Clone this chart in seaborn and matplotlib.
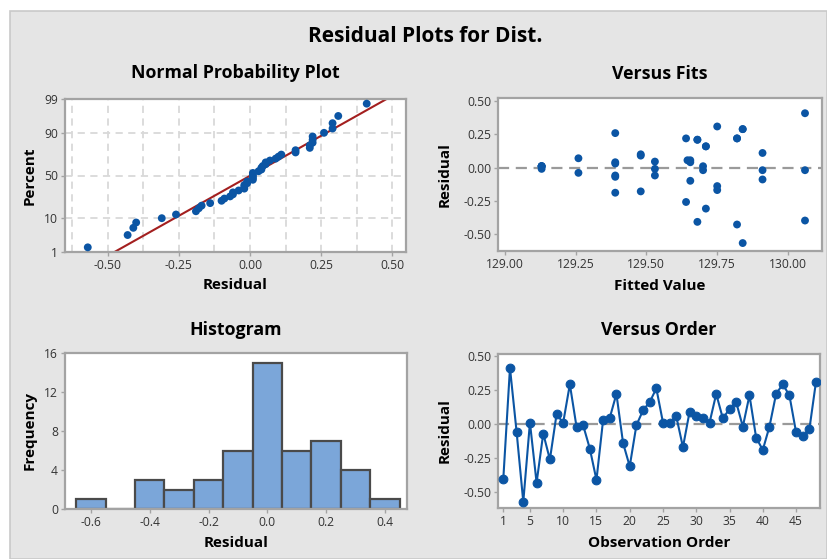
import numpy as np
import pandas as pd
import matplotlib
matplotlib.use("Agg")
import matplotlib.pyplot as plt
import seaborn as sns
from statistics import NormalDist
from matplotlib.patches import Rectangle

# ---------------- data ----------------
observation = list(range(1, 49))
residuals = [-0.40, 0.41, -0.06, -0.57, 0.01, -0.43, -0.07, -0.26, 0.07, 0.01,
             0.29, -0.02, -0.01, -0.18, -0.41, 0.03, 0.045, 0.22, -0.14, -0.31,
             -0.01, 0.10, 0.16, 0.26, 0.01, 0.01, 0.055, -0.17, 0.09, 0.055,
             0.04, 0.01, 0.22, 0.04, 0.11, 0.16, -0.02, 0.21, -0.10, -0.19,
             -0.02, 0.22, 0.29, 0.21, -0.06, -0.09, -0.04, 0.31]
fitted = [130.06, 130.06, 129.39, 129.84, 129.13, 129.82, 129.39, 129.64, 129.26, 129.70,
          129.84, 130.06, 129.13, 129.48, 129.68, 129.39, 129.53, 129.64, 129.75, 129.71,
          129.53, 129.48, 129.71, 129.39, 129.13, 129.13, 129.655, 129.75, 129.48, 129.645,
          129.655, 129.13, 129.82, 129.39, 129.91, 129.71, 129.91, 129.68, 129.655, 129.39,
          129.70, 129.82, 129.84, 129.68, 129.53, 129.91, 129.26, 129.75]
pct_ticks = [1, 10, 50, 90, 99]
np_xticks = [-0.50, -0.25, 0.00, 0.25, 0.50]
vf_xticks = [129.00, 129.25, 129.50, 129.75, 130.00]
res_yticks = [-0.50, -0.25, 0.00, 0.25, 0.50]
hist_xticks = [-0.6, -0.4, -0.2, 0.0, 0.2, 0.4]
hist_yticks = [0, 4, 8, 12, 16]
order_xticks = [1, 5, 10, 15, 20, 25, 30, 35, 40, 45]

df = pd.DataFrame({"obs": observation, "resid": residuals, "fit": fitted})

# normal probability positions
nd = NormalDist()
n = len(residuals)
sorted_res = np.sort(np.array(residuals))
ranks = np.arange(1, n + 1)
zq = np.array([nd.inv_cdf((i - 0.3) / (n + 0.4)) for i in ranks])
npdf = pd.DataFrame({"resid": sorted_res, "z": zq})
mu = float(np.mean(residuals))
sd = float(np.std(residuals, ddof=1))
zlo, zhi = nd.inv_cdf(0.01), nd.inv_cdf(0.99)
linedf = pd.DataFrame({"x": [mu + zlo * sd, mu + zhi * sd], "z": [zlo, zhi]})

# ---------------- style ----------------
sns.set_theme(style="white")
FONT = ["Open Sans", "DejaVu Sans"]
plt.rcParams["font.family"] = FONT

W, H = 827, 559
fig = plt.figure(figsize=(W / 100, H / 100), dpi=100, facecolor="white")
fig.patches.append(Rectangle((10 / W, 0), 1 - 10 / W, (H - 11) / H, transform=fig.transFigure,
                             facecolor="#E5E5E5", edgecolor="#C9C9C9", linewidth=1.2, zorder=-10))

BLUE = "#0B55A4"
TICKC = "#333333"
SPINE = "#A3A3A3"


def make_ax(l, r, t, b):
    ax = fig.add_axes([l / W, (H - b) / H, (r - l) / W, (b - t) / H])
    ax.set_facecolor("white")
    for s in ax.spines.values():
        s.set_color(SPINE)
        s.set_linewidth(1.6)
    ax.tick_params(axis="both", labelsize=8.7, colors=SPINE, labelcolor=TICKC,
                   length=3, width=1, direction="out", bottom=True, left=True, pad=2)
    return ax


def labels(ax, xl, yl, xl_y, yl_x, l, r, t, b):
    ax.set_xlabel(xl, fontsize=11, fontweight="bold", color="black", va="center")
    ax.set_ylabel(yl, fontsize=11, fontweight="bold", color="black", va="center")
    ax.xaxis.set_label_coords(0.5, (b - xl_y) / (b - t))
    ax.yaxis.set_label_coords((yl_x - l) / (r - l), 0.5)


def title(ax, txt, ty, l, r, t, b):
    ax.text(0.5, (b - ty) / (b - t), txt, transform=ax.transAxes, ha="center", va="center",
            fontsize=12.8, fontweight="bold", color="black")


fig.text(425 / W, 1 - 37 / H, "Residual Plots for Dist.", ha="center", va="center",
         fontsize=15, fontweight="bold", color="black")

# ---- Normal probability plot ----
L, R, T, B = 65, 406, 99, 252
ax1 = make_ax(L, R, T, B)
for gx in np.arange(-0.625, 0.55, 0.125):
    ax1.axvline(gx, color="#D9D9D9", lw=1.3, ls=(0, (4, 3)), zorder=0)
for p in [10, 50, 90]:
    ax1.axhline(nd.inv_cdf(p / 100), color="#D9D9D9", lw=1.3, ls=(0, (4, 3)), zorder=0)
sns.lineplot(data=linedf, x="x", y="z", ax=ax1, color="#A31F1F", lw=1.5, zorder=2)
sns.scatterplot(data=npdf, x="resid", y="z", ax=ax1, color=BLUE, s=32, edgecolor="none", zorder=3)
ax1.set_xlim(-0.65, 0.548)
ax1.set_ylim(zlo, zhi)
ax1.set_xticks(np_xticks)
ax1.set_xticklabels([f"{v:.2f}" for v in np_xticks])
ax1.set_yticks([nd.inv_cdf(p / 100) for p in pct_ticks])
ax1.set_yticklabels([str(p) for p in pct_ticks])
labels(ax1, "Residual", "Percent", 285, 30, L, R, T, B)
title(ax1, "Normal Probability Plot", 73, L, R, T, B)

# ---- Versus fits ----
L, R, T, B = 498, 822, 98, 251
ax2 = make_ax(L, R, T, B)
ax2.axhline(0, color="#9A9A9A", lw=1.6, ls=(0, (5, 3)), zorder=0)
sns.scatterplot(data=df, x="fit", y="resid", ax=ax2, color=BLUE, s=32, edgecolor="none", zorder=3)
ax2.set_xlim(128.976, 130.12)
ax2.set_ylim(-0.63, 0.525)
ax2.set_xticks(vf_xticks)
ax2.set_xticklabels([f"{v:.2f}" for v in vf_xticks])
ax2.set_yticks(res_yticks)
ax2.set_yticklabels([f"{v:.2f}" for v in res_yticks])
labels(ax2, "Fitted Value", "Residual", 286, 445, L, R, T, B)
title(ax2, "Versus Fits", 74, L, R, T, B)

# ---- Histogram ----
L, R, T, B = 65, 407, 353, 509
ax3 = make_ax(L, R, T, B)
sns.histplot(data=df, x="resid", ax=ax3, binwidth=0.1, binrange=(-0.65, 0.45),
             color="#7BA6D9", alpha=1, edgecolor="#4A4A4A", linewidth=1.6)
ax3.set_xlim(-0.688, 0.475)
ax3.set_ylim(0, 16)
ax3.set_xticks(hist_xticks)
ax3.set_xticklabels([f"{v:.1f}" for v in hist_xticks])
ax3.set_yticks(hist_yticks)
labels(ax3, "Residual", "Frequency", 543, 30, L, R, T, B)
title(ax3, "Histogram", 330, L, R, T, B)

# ---- Versus order ----
L, R, T, B = 498, 820, 354, 508
ax4 = make_ax(L, R, T, B)
ax4.axhline(0, color="#9A9A9A", lw=1.6, ls=(0, (5, 3)), zorder=0)
sns.lineplot(data=df, x="obs", y="resid", ax=ax4, color=BLUE, lw=1.5, marker="o",
             markersize=6.3, markeredgecolor=BLUE, zorder=3)
ax4.set_xlim(0.2, 48.6)
ax4.set_ylim(-0.615, 0.512)
ax4.set_xticks(order_xticks)
ax4.set_yticks(res_yticks)
ax4.set_yticklabels([f"{v:.2f}" for v in res_yticks])
labels(ax4, "Observation Order", "Residual", 543, 445, L, R, T, B)
title(ax4, "Versus Order", 330, L, R, T, B)

fig.savefig("out.png", dpi=100, facecolor="white")
